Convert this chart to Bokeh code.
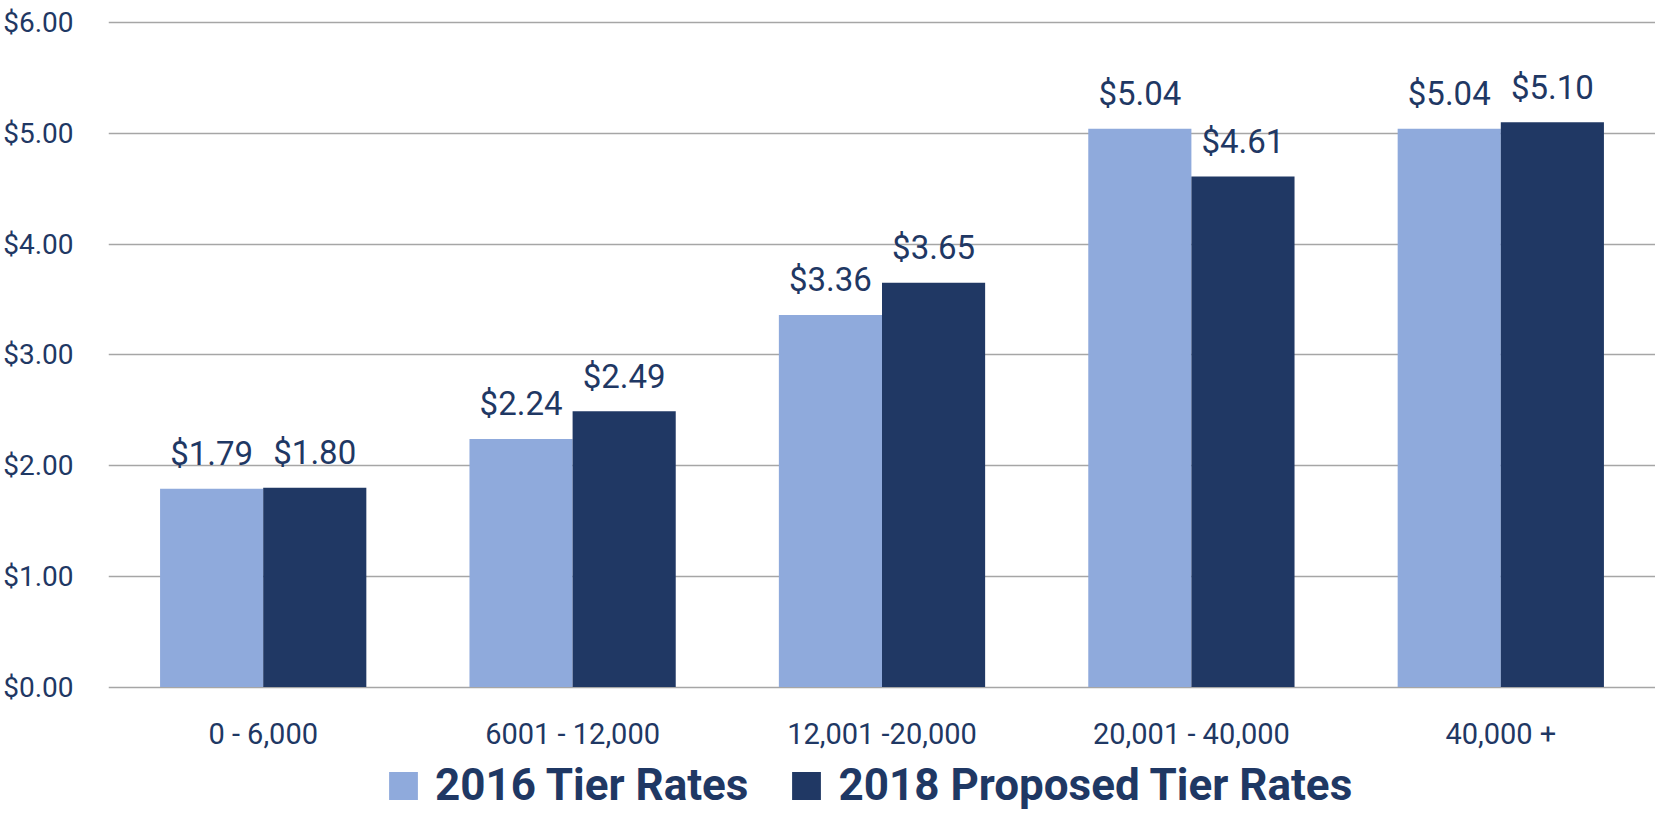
from bokeh.plotting import figure
from bokeh.models import ColumnDataSource, FactorRange, NumeralTickFormatter, Legend, LegendItem, FixedTicker, Range1d
from bokeh.transform import dodge
from bokeh.embed import file_html
from bokeh.resources import INLINE
from bokeh.core.properties import value

categories = ["0 - 6,000", "6001 - 12,000", "12,001 -20,000", "20,001 - 40,000", "40,000 +"]
rates_2016 = [1.79, 2.24, 3.36, 5.04, 5.04]
rates_2018 = [1.80, 2.49, 3.65, 4.61, 5.10]
series_names = ["2016 Tier Rates", "2018 Proposed Tier Rates"]
y_ticks = [0, 1, 2, 3, 4, 5, 6]

LIGHT = "#8FAADC"
DARK = "#203864"
TEXT = "#1F3864"
FONT = "Roboto"

W, H = 1655, 812
TOP, LEFT = 12, 99
PAD_TOP = 10             # pixels between frame top and the $6.00 line
ZERO_PX = 664.5          # pixels from the $6.00 line down to the $0.00 line
PX_PER_UNIT = ZERO_PX / 6
frame_h = H - TOP
y_max = 6 + PAD_TOP / PX_PER_UNIT
y_min = -(frame_h - PAD_TOP - ZERO_PX) / PX_PER_UNIT   # room under 0 for labels + legend

src = ColumnDataSource(dict(
    cat=categories,
    r16=rates_2016,
    r18=rates_2018,
    l16=[f"${v:.2f}" for v in rates_2016],
    l18=[f"${v:.2f}" for v in rates_2018],
))

p = figure(x_range=FactorRange(factors=categories), y_range=Range1d(y_min, y_max),
           width=W, height=H, output_backend="svg", toolbar_location=None,
           min_border_left=LEFT, min_border_right=0, min_border_top=TOP, min_border_bottom=0)

b16 = p.vbar(x=dodge("cat", -1/6, range=p.x_range), top="r16", width=1/3, source=src,
             fill_color=LIGHT, line_color=None)
b18 = p.vbar(x=dodge("cat", 1/6, range=p.x_range), top="r18", width=1/3, source=src,
             fill_color=DARK, line_color=None)

p.text(x=dodge("cat", -1/6, range=p.x_range), y="r16", text="l16", source=src,
       text_align="center", text_baseline="alphabetic", y_offset=-35,
       text_font=value(FONT), text_font_size="33px", text_color=TEXT)
p.text(x=dodge("cat", 1/6, range=p.x_range), y="r18", text="l18", source=src,
       text_align="center", text_baseline="alphabetic", y_offset=-35,
       text_font=value(FONT), text_font_size="33px", text_color=TEXT)

p.outline_line_color = None
p.xgrid.grid_line_color = None
p.ygrid.grid_line_color = "#A6A6A6"
p.ygrid.grid_line_width = 1.5
p.ygrid.ticker = FixedTicker(ticks=y_ticks)

p.yaxis.ticker = FixedTicker(ticks=y_ticks)
p.yaxis.formatter = NumeralTickFormatter(format="$0.00")
p.yaxis.axis_line_color = None
p.yaxis.major_tick_line_color = None
p.yaxis.minor_tick_line_color = None
p.yaxis.major_tick_out = 0
p.yaxis.major_tick_in = 0
p.yaxis.major_label_standoff = 35
p.yaxis.major_label_text_font = FONT
p.yaxis.major_label_text_font_size = "28px"
p.yaxis.major_label_text_color = TEXT

p.xaxis.fixed_location = 0
p.xaxis.axis_line_color = None
p.xaxis.major_tick_line_color = None
p.xaxis.major_tick_out = 0
p.xaxis.major_tick_in = 0
p.xaxis.major_label_standoff = 30
p.xaxis.major_label_text_font = FONT
p.xaxis.major_label_text_font_size = "29px"
p.xaxis.major_label_text_color = TEXT

legend = Legend(items=[LegendItem(label=series_names[0], renderers=[b16]),
                       LegendItem(label=series_names[1], renderers=[b18])],
                orientation="horizontal", location=(277, 1),
                glyph_width=36, glyph_height=35, label_standoff=14, spacing=40,
                label_text_font=FONT, label_text_font_size="44px",
                label_text_font_style="bold", label_text_color=TEXT,
                label_text_baseline="middle",
                border_line_color=None, background_fill_alpha=0,
                padding=0, margin=0)
p.add_layout(legend, "center")

open("out.html", "w").write(file_html(p, INLINE))
